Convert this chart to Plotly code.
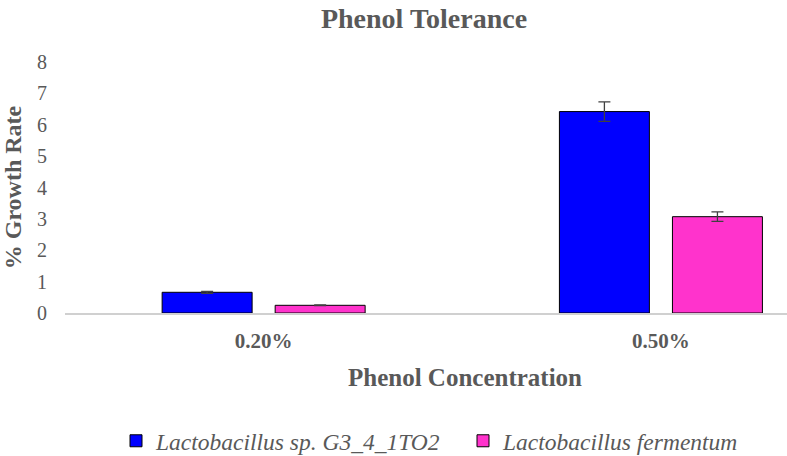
import plotly.graph_objects as go

categories = ["0.20%", "0.50%"]
series_names = ["Lactobacillus sp. G3_4_1TO2", "Lactobacillus fermentum"]
growth_g3 = [0.66, 6.42]
err_g3 = [0.03, 0.31]
growth_ferm = [0.245, 3.07]
err_ferm = [0.01, 0.15]
y_ticks = [0, 1, 2, 3, 4, 5, 6, 7, 8]

W, H = 787, 456
L, R, T, B = 65, 0, 62, 143
TXT = "#595959"
SERIF = "Liberation Serif, Times New Roman, serif"

fig = go.Figure()
fig.add_trace(go.Bar(
    x=categories, y=growth_g3, name="<i>" + series_names[0] + "</i>",
    marker=dict(color="#0000FF", line=dict(color="#000000", width=1)),
    error_y=dict(type="data", array=err_g3, color="#404040", thickness=1.3, width=6),
))
fig.add_trace(go.Bar(
    x=categories, y=growth_ferm, name="<i>" + series_names[1] + "</i>",
    marker=dict(color="#FF33CC", line=dict(color="#000000", width=1)),
    error_y=dict(type="data", array=err_ferm, color="#404040", thickness=1.3, width=6),
))

fig.update_layout(
    width=W, height=H,
    margin=dict(l=L, r=R, t=T, b=B, autoexpand=False),
    paper_bgcolor="white", plot_bgcolor="white",
    barmode="group", bargap=0.431, bargroupgap=0.204,
    font=dict(family=SERIF, color=TXT),
    title=dict(text="<b>Phenol Tolerance</b>", x=424 / W, xref="container", xanchor="center",
               y=1 - 18 / H, yref="container", yanchor="middle",
               font=dict(family=SERIF, size=28, color=TXT)),
    xaxis=dict(range=[-0.5, (W - L - 199) / 397], showline=True, linecolor="#D0D0D0",
               linewidth=1.5, showgrid=False, zeroline=False, ticks="",
               tickfont=dict(family=SERIF, size=21, color=TXT),
               ticklabelstandoff=8, tickprefix="<b>", ticksuffix="</b>"),
    yaxis=dict(range=[0, 8], tickvals=y_ticks, showgrid=False, zeroline=False, showline=False,
               ticks="", tickfont=dict(family=SERIF, size=20, color=TXT),
               ticklabelstandoff=17, tickprefix="<b>", ticksuffix="</b>",
               title=dict(text="<b>% Growth Rate</b>", standoff=8,
                          font=dict(family=SERIF, size=24, color=TXT))),
    legend=dict(orientation="h", xref="container", yref="container",
                x=116 / W, xanchor="left", y=(H - 441) / H, yanchor="middle",
                font=dict(family=SERIF, size=23.5, color=TXT),
                entrywidth=302, entrywidthmode="pixels", itemwidth=30,
                bgcolor="rgba(0,0,0,0)"),
    showlegend=True,
)

fig.add_annotation(text="<b>Phenol Concentration</b>", xref="paper", yref="paper",
                   x=(465 - L) / (W - L - R), y=(T + (H - B - T) - 377) / (H - B - T),
                   xanchor="center", yanchor="middle", showarrow=False,
                   font=dict(family=SERIF, size=25, color=TXT))

fig.write_html("out.html", config={"displayModeBar": False},
               post_script="document.body.style.margin='0px';document.body.style.overflow='hidden';")
